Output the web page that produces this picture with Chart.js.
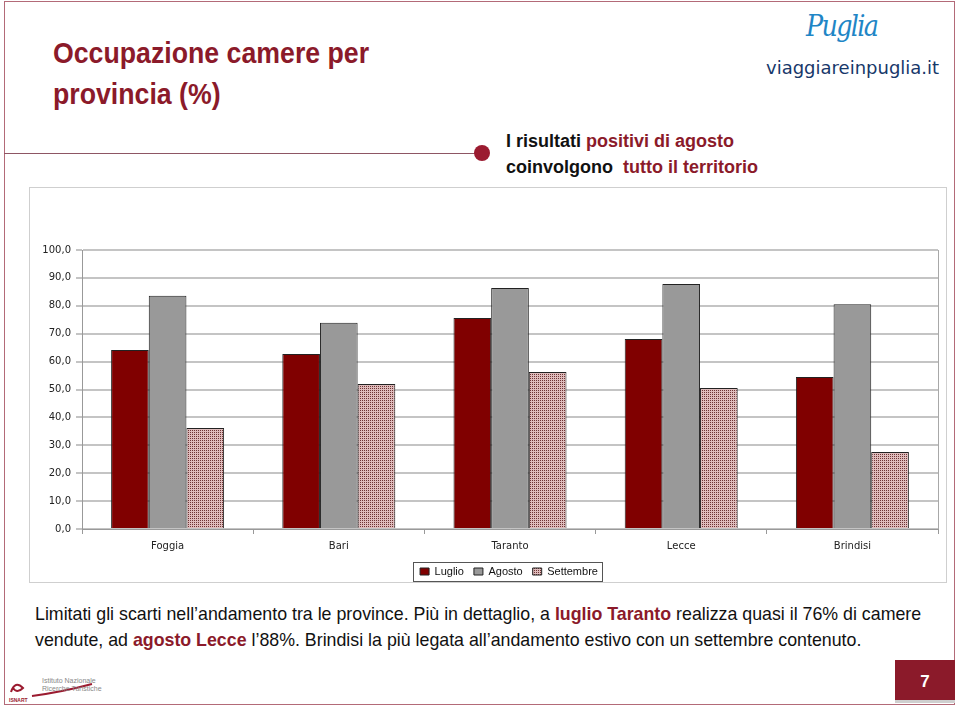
<!DOCTYPE html>
<html lang="it">
<head>
<meta charset="utf-8">
<title>Occupazione camere per provincia (%)</title>
<script src="https://cdn.jsdelivr.net/npm/chart.js@4"></script>
<style>
  body { margin: 0; width: 960px; height: 708px; background: #fff; position: relative; overflow: hidden; font-family: "Liberation Sans", Arial, sans-serif; }
  .frame { position: absolute; left: 4px; top: 1px; width: 951px; height: 704px; border: 1px solid #b36a78; box-sizing: border-box; }
  .sep { position: absolute; left: 4px; top: 153px; width: 476px; height: 1px; background: #8e5664; }
  .dot { position: absolute; left: 474px; top: 145px; width: 16px; height: 16px; border-radius: 50%; background: #9b1b30; }
  .title { position: absolute; left: 53px; top: 32px; color: #8b1a2a; font: bold 30px "Liberation Sans", sans-serif; line-height: 41px; transform: scaleX(0.89); transform-origin: left top; white-space: nowrap; }
  .sub { position: absolute; left: 506px; top: 128px; font: bold 18px "Liberation Sans Narrow", sans-serif; line-height: 26px; color: #111; }
  .red { color: #8b1a2a; }
  .logo1 { position: absolute; left: 806px; top: 8px; color: #1f86c6; font: italic 30px "DejaVu Serif", serif; letter-spacing: -2px; transform: scaleX(0.85); transform-origin: left top; }
  .logo2 { position: absolute; left: 766px; top: 57px; color: #17386a; font: 18px "DejaVu Sans", sans-serif; letter-spacing: 0; }
  .box { position: absolute; left: 29px; top: 187px; width: 918px; height: 396px; border: 1px solid #cfcfcf; box-sizing: border-box; }
  #wrap { position: absolute; left: 30px; top: 188px; width: 916px; height: 404px; }
  .text { position: absolute; left: 35px; top: 601px; font: 17.8px "Liberation Sans", sans-serif; line-height: 26px; color: #111; white-space: nowrap; }
  .text b { color: #8b1a2a; }
  .page { position: absolute; left: 895px; top: 660px; width: 60px; height: 40px; background: #8b1a2a; color: #fff; font: bold 17px "Liberation Sans", sans-serif; text-align: center; line-height: 44px; box-shadow: 0 3px 0 #cfcfcf; }
  .isn1 { position: absolute; left: 42px; top: 677px; font: 7px "Liberation Sans", sans-serif; color: #888; line-height: 8px; }
  .isn2 { position: absolute; left: 9px; top: 697px; font: bold 5px "Liberation Sans", sans-serif; color: #9b1b30; }
</style>
</head>
<body>
<div class="frame"></div>
<div class="sep"></div>
<div class="dot"></div>
<div class="title">Occupazione camere per<br>provincia (%)</div>
<div class="sub">I risultati <span class="red">positivi di agosto</span><br>coinvolgono &nbsp;<span class="red">tutto il territorio</span></div>
<div class="logo1">Puglia</div>
<div class="logo2">viaggiareinpuglia.it</div>
<div class="box"></div>
<div id="wrap"><canvas id="chart"></canvas></div>
<div class="text">Limitati gli scarti nell’andamento tra le province. Più in dettaglio, a <b>luglio Taranto</b> realizza quasi il 76% di camere<br>vendute, ad <b>agosto Lecce</b> l’88%. Brindisi la più legata all’andamento estivo con un settembre contenuto.</div>
<svg style="position:absolute;left:8px;top:678px" width="90" height="22">
  <path d="M3 14 q4 -12 12 -4 q-6 6 -10 0" fill="none" stroke="#9b1b30" stroke-width="2"/>
  <path d="M24 18 q30 -4 60 -12" fill="none" stroke="#9b1b30" stroke-width="2"/>
</svg>
<div class="isn1">Istituto Nazionale<br>Ricerche Turistiche</div>
<div class="isn2">ISNART</div>
<div class="page">7</div>

<script>
// =========================
// dati
// =========================
const province = ["Foggia", "Bari", "Taranto", "Lecce", "Brindisi"];
const luglio = [64.2, 62.7, 75.6, 68.1, 54.5];
const agosto = [83.6, 73.9, 86.4, 87.8, 80.6];
const settembre = [36.2, 52.0, 56.3, 50.5, 27.6];
const yMax = 100;
const yStep = 10;

// trama puntinata per settembre
function dotPattern() {
  const c = document.createElement("canvas");
  c.width = 2;
  c.height = 2;
  const g = c.getContext("2d");
  g.fillStyle = "#dfbcbc";
  g.fillRect(0, 0, 2, 2);
  g.fillStyle = "#6e3434";
  g.fillRect(0, 0, 1, 1);
  return g.createPattern(c, "repeat");
}

// bordo destro del grafico + cornice della legenda
const LEGEND_SHIFT = 25;
const framePlugin = {
  id: "frame",
  afterUpdate(chart) {
    // legenda centrata sull'area del grafico, non sul canvas
    const lg = chart.legend;
    lg.left += LEGEND_SHIFT;
    lg.right += LEGEND_SHIFT;
    (lg.legendHitBoxes || []).forEach((h) => { h.left += LEGEND_SHIFT; });
  },
  afterDraw(chart) {
    const { ctx, chartArea } = chart;
    ctx.save();
    ctx.strokeStyle = "#a8a8a8";
    ctx.lineWidth = 1;
    ctx.beginPath();
    ctx.moveTo(chartArea.right + 0.5, chartArea.top);
    ctx.lineTo(chartArea.right + 0.5, chartArea.bottom);
    ctx.stroke();

    const hb = chart.legend.legendHitBoxes;
    if (hb && hb.length) {
      const l = hb[0].left - 7;
      const r = hb[hb.length - 1].left + hb[hb.length - 1].width + 4;
      const t = hb[0].top - 4;
      const b = hb[0].top + hb[0].height + 4;
      ctx.strokeStyle = "#555";
      ctx.strokeRect(Math.round(l) + 0.5, Math.round(t) + 0.5, Math.round(r - l), Math.round(b - t));
    }
    ctx.restore();
  },
};

const pattern = dotPattern();

new Chart(document.getElementById("chart"), {
  type: "bar",
  data: {
    labels: province,
    datasets: [
      { label: "Luglio", data: luglio, backgroundColor: "#800000", borderColor: "#222", borderWidth: 1 },
      { label: "Agosto", data: agosto, backgroundColor: "#999999", borderColor: "#222", borderWidth: 1 },
      { label: "Settembre", data: settembre, backgroundColor: pattern, borderColor: "#222", borderWidth: 1 },
    ],
  },
  options: {
    responsive: true,
    maintainAspectRatio: false,
    animation: false,
    layout: { padding: { top: 62, right: 8, left: 0, bottom: 5 } },
    datasets: { bar: { categoryPercentage: 0.66, barPercentage: 1 } },
    plugins: {
      tooltip: { enabled: false },
      legend: {
        position: "bottom",
        labels: {
          boxWidth: 9,
          boxHeight: 7,
          padding: 10,
          color: "#111",
          font: { family: "Liberation Sans", size: 11 },
        },
      },
    },
    scales: {
      x: {
        afterFit: (s) => { s.height = 27; },
        grid: { display: true, offset: true, drawOnChartArea: false, tickLength: 5, color: "#999" },
        border: { color: "#999" },
        ticks: { color: "#222", padding: 6, font: { family: "DejaVu Sans", size: 10 } },
      },
      y: {
        min: 0,
        max: yMax,
        afterFit: (s) => { s.width = 52; },
        grid: { color: "#c4c4c4", lineWidth: 2, tickLength: 6 },
        border: { color: "#999" },
        ticks: {
          stepSize: yStep,
          padding: 5,
          color: "#222",
          font: { family: "DejaVu Sans", size: 10 },
          callback: (v) => v.toFixed(1).replace(".", ","),
        },
      },
    },
  },
  plugins: [framePlugin],
});
</script>
</body>
</html>
